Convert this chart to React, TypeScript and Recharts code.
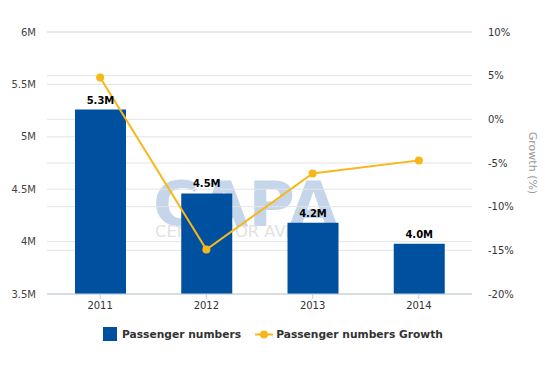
import React from "react";
import {
  ComposedChart,
  Bar,
  Line,
  XAxis,
  YAxis,
  CartesianGrid,
  LabelList,
} from "recharts";

const years = ["2011", "2012", "2013", "2014"];
const passengers = [5.26, 4.46, 4.18, 3.98];
const growth = [4.8, -14.9, -6.2, -4.7];
const leftTicks = [3.5, 4, 4.5, 5, 5.5, 6];
const rightTicks = [-20, -15, -10, -5, 0, 5, 10];

const data = years.map((y, i) => ({
  year: y,
  passengers: passengers[i],
  growth: growth[i],
}));

const BLUE = "#0050a0";
const YELLOW = "#f7b719";
const FONT = "'DejaVu Sans', Verdana, sans-serif";

const GrowthLabel = (props: any) => {
  const { viewBox } = props;
  const x = 529;
  const y = viewBox.y + viewBox.height / 2;
  return (
    <text
      x={x}
      y={y}
      transform={`rotate(90, ${x}, ${y})`}
      textAnchor="middle"
      fill="#999"
      fontSize={11}
      fontFamily={FONT}
    >
      Growth (%)
    </text>
  );
};

export default function App() {
  return (
    <div
      style={{
        position: "absolute",
        left: 0,
        top: 0,
        width: 549,
        height: 365,
        background: "#fff",
        fontFamily: FONT,
      }}
    >
      <svg
        width={549}
        height={365}
        style={{ position: "absolute", left: 0, top: 0, zIndex: 0 }}
      >
        <text
          x={153}
          y={226}
          fontSize={62}
          fontWeight="bold"
          fill="#c5d6ea"
          fontFamily={FONT}
          textLength={185}
          lengthAdjust="spacingAndGlyphs"
        >
          CAPA
        </text>
        <text
          x={155}
          y={237}
          fontSize={15}
          fill="#e2e2e2"
          fontFamily={FONT}
          textLength={185}
          lengthAdjust="spacingAndGlyphs"
        >
          CENTRE FOR AVIATION
        </text>
      </svg>
      <div style={{ position: "absolute", left: 0, top: 0, zIndex: 1 }}>
        <ComposedChart
          width={549}
          height={365}
          data={data}
          margin={{ top: 32, right: 17, bottom: 41, left: 0 }}
        >
          <CartesianGrid
            yAxisId="left"
            vertical={false}
            stroke="#e4e4e4"
            strokeWidth={1}
          />
          <CartesianGrid
            yAxisId="right"
            vertical={false}
            stroke="#e4e4e4"
            strokeWidth={1}
          />
          <XAxis
            dataKey="year"
            height={30}
            axisLine={{ stroke: "#c0d0e0" }}
            tickLine={{ stroke: "#c0d0e0" }}
            tickSize={5}
            tickMargin={3}
            tick={{ fill: "#333", fontSize: 10, fontFamily: FONT }}
          />
          <YAxis
            yAxisId="left"
            orientation="left"
            width={47}
            domain={[3.5, 6]}
            ticks={leftTicks}
            axisLine={false}
            tickLine={false}
            tickSize={0}
            tickMargin={11}
            tickFormatter={(v: number) => `${v}M`}
            tick={{ fill: "#444", fontSize: 10, fontFamily: FONT }}
          />
          <YAxis
            yAxisId="right"
            orientation="right"
            width={60}
            domain={[-20, 10]}
            ticks={rightTicks}
            axisLine={false}
            tickLine={false}
            tickSize={0}
            tickMargin={16}
            tickFormatter={(v: number) => `${v}%`}
            tick={{ fill: "#333", fontSize: 10, fontFamily: FONT, textAnchor: "start" }}
            label={<GrowthLabel />}
          />
          <Bar
            yAxisId="left"
            dataKey="passengers"
            fill={BLUE}
            barSize={51}
            isAnimationActive={false}
          >
            <LabelList
              dataKey="passengers"
              position="top"
              offset={6}
              formatter={(v: number) => `${v.toFixed(1)}M`}
              style={{ fontSize: 10, fontWeight: "bold", fill: "#000", fontFamily: FONT }}
            />
          </Bar>
          <Line
            yAxisId="right"
            dataKey="growth"
            stroke={YELLOW}
            strokeWidth={2}
            dot={{ r: 4, fill: YELLOW, stroke: YELLOW, strokeWidth: 0 }}
            activeDot={false}
            isAnimationActive={false}
          />
        </ComposedChart>
      </div>
      <div
        style={{
          position: "absolute",
          left: 103,
          top: 327,
          display: "flex",
          alignItems: "center",
          fontSize: 10.7,
          fontWeight: "bold",
          color: "#333",
          fontFamily: FONT,
          zIndex: 2,
          whiteSpace: "nowrap",
        }}
      >
        <span
          style={{
            display: "inline-block",
            width: 14,
            height: 14,
            background: BLUE,
            marginRight: 5,
          }}
        />
        <span>Passenger numbers</span>
        <svg width={18} height={13} style={{ marginLeft: 14, marginRight: 3 }}>
          <line x1={0} y1={6.5} x2={18} y2={6.5} stroke={YELLOW} strokeWidth={2} />
          <circle cx={9} cy={6.5} r={4} fill={YELLOW} />
        </svg>
        <span>Passenger numbers Growth</span>
      </div>
    </div>
  );
}
